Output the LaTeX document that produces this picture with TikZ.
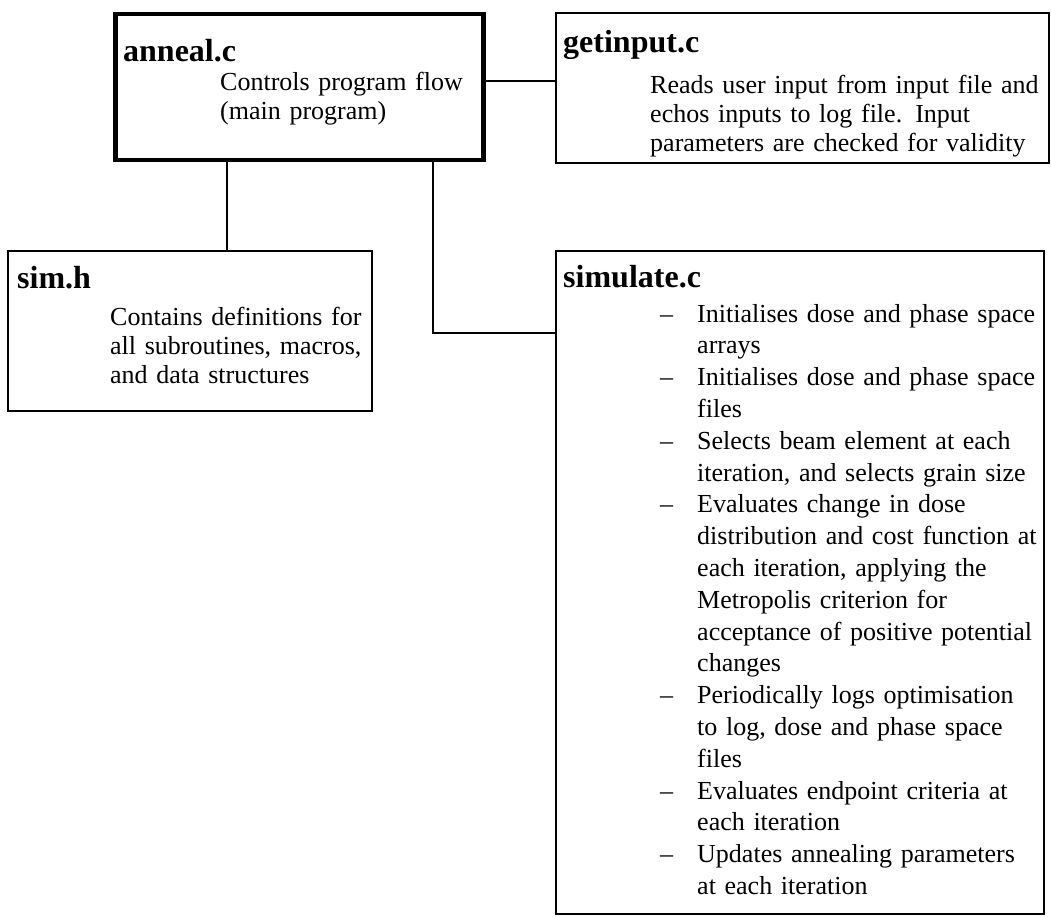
\documentclass[tikz,border=0pt]{standalone}
\usepackage{fontspec}
\setmainfont{Liberation Serif}
\usetikzlibrary{calc}

\tikzset{
  filebox/.style={draw, line width=1.8pt, rectangle, anchor=north west, inner sep=0pt},
  mainbox/.style={filebox, line width=4.5pt},
  fname/.style={anchor=base west, inner sep=0pt, font=\fontsize{32}{36}\selectfont\bfseries},
  fdesc/.style={anchor=base west, inner sep=0pt, align=left, font=\fontsize{26}{29}\selectfont},
  link/.style={line width=1.8pt},
}
% one dash entry of a task list, wrapped lines hang under the text
\newcommand{\taskline}[1]{\hangindent=37pt\hangafter=1\noindent\makebox[37pt][l]{--}#1\par}

\begin{document}
\begin{tikzpicture}[x=1pt, y=-1pt]
  \useasboundingbox (0,0) rectangle (1051,917);

  % the four source files
  \node[mainbox, minimum width=368pt, minimum height=146pt] (anneal) at (113,12) {};
  \node[filebox, minimum width=493pt, minimum height=150pt] (getinput) at (555,12) {};
  \node[filebox, minimum width=364pt, minimum height=160pt] (simh) at (7,250) {};
  \node[filebox, minimum width=488pt, minimum height=663pt] (simulate) at (555,250) {};

  \node[fname] (annealT) at ($(anneal.north west)+(10,50)$) {anneal.c};
  \node[fdesc, text width=260pt] (annealD) at ($(anneal.north west)+(107,79)$)
    {Controls program flow\\(main program)};

  \node[fname] (getinputT) at ($(getinput.north west)+(8,41)$) {getinput.c};
  \node[fdesc, text width=395pt] (getinputD) at ($(getinput.north west)+(95,82)$)
    {Reads user input from input file and\\echos inputs to log file. Input\\parameters are checked for validity};

  \node[fname] (simhT) at ($(simh.north west)+(10,38)$) {sim.h};
  \node[fdesc, text width=300pt] (simhD) at ($(simh.north west)+(103,75)$)
    {Contains definitions for\\all subroutines, macros,\\and data structures};

  \node[fname] (simulateT) at ($(simulate.north west)+(8,37)$) {simulate.c};
  \node[fdesc, text width=380pt, font=\fontsize{26}{31.8}\selectfont] (simulateD)
    at ($(simulate.north west)+(105,72)$) {%
    \taskline{Initialises dose and phase space\newline arrays}%
    \taskline{Initialises dose and phase space\newline files}%
    \taskline{Selects beam element at each\newline iteration, and selects grain size}%
    \taskline{Evaluates change in dose\newline distribution and cost function at\newline
      each iteration, applying the\newline Metropolis criterion for\newline
      acceptance of positive potential\newline changes}%
    \taskline{Periodically logs optimisation\newline to log, dose and phase space\newline files}%
    \taskline{Evaluates endpoint criteria at\newline each iteration}%
    \taskline{Updates annealing parameters\newline at each iteration}};

  % call links from the main program
  \draw[link] ([yshift=6.5pt]anneal.east) -- ([yshift=6.5pt]anneal.east -| getinput.west);
  \draw[link] ([xshift=114pt]anneal.south west) -- ([xshift=114pt]anneal.south west |- simh.north);
  \draw[link] ([xshift=320pt]anneal.south west) |- ([yshift=-83pt]simulate.north west);
\end{tikzpicture}
\end{document}
